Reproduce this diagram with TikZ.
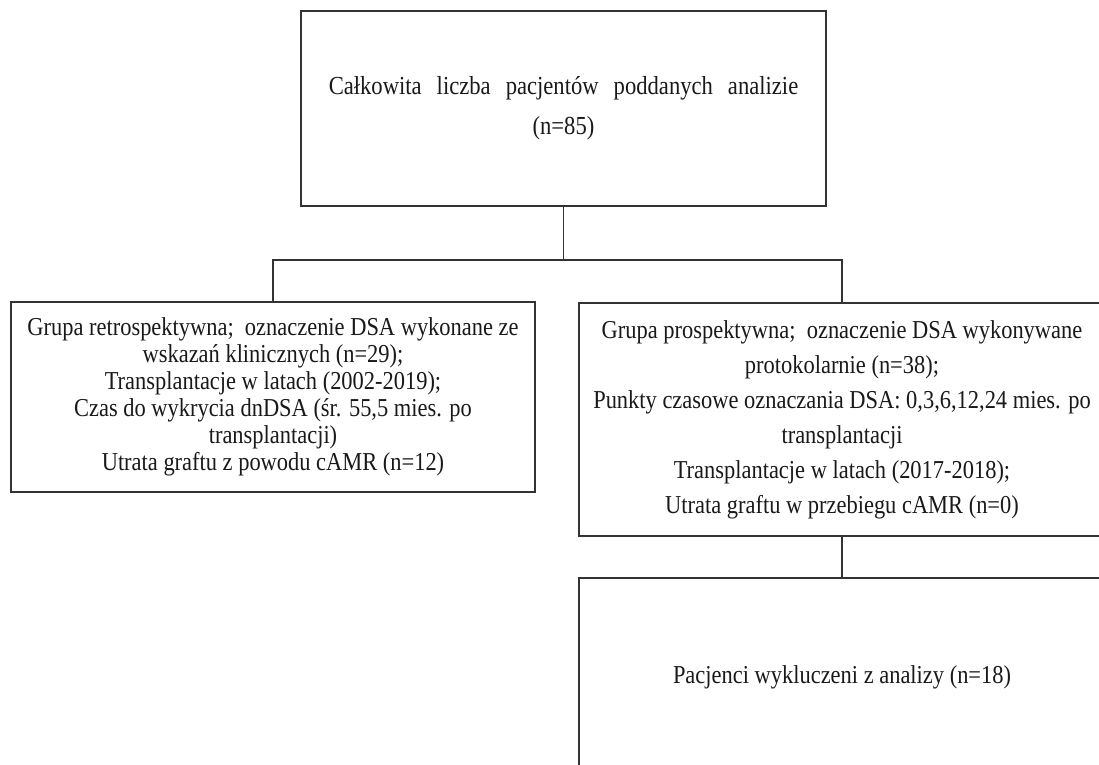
\documentclass[tikz,border=0pt]{standalone}
\usepackage{fontspec}
\setmainfont{Liberation Serif}[FakeStretch=0.87]
\begin{document}
\begin{tikzpicture}[x=1pt,y=-1pt,
  box/.style={draw=black!80, line width=1.6pt, align=center, inner sep=0pt, text=black!90},
  link/.style={draw=black!80, line width=1.6pt}]
\useasboundingbox (0,0) rectangle (1099,764);
\clip (0,0) rectangle (1099,764);
\node[box, minimum width=525pt, minimum height=195pt, font={\fontsize{26}{40}\selectfont\spaceskip=15pt plus 2pt\relax}] (top) at (563.5,108.5)
  {Całkowita liczba pacjentów poddanych analizie\\(n=85)};
\node[box, minimum width=524pt, minimum height=190pt, font=\fontsize{25.8}{27}\selectfont] (left) at (273,397)
  {Grupa retrospektywna;\ \ oznaczenie DSA wykonane ze\\wskazań klinicznych (n=29);\\Transplantacje w latach (2002-2019);\\Czas do wykrycia dnDSA (śr. 55,5 mies. po\\transplantacji)\\Utrata graftu z powodu cAMR (n=12)};
\node[box, minimum width=526pt, minimum height=233pt, font=\fontsize{25.8}{35}\selectfont] (right) at (842,419.5)
  {Grupa prospektywna;\ \ oznaczenie DSA wykonywane\\protokolarnie (n=38);\\Punkty czasowe oznaczania DSA: 0,3,6,12,24 mies. po\\transplantacji\\Transplantacje w latach (2017-2018);\\Utrata graftu w przebiegu cAMR (n=0)};
\node[box, minimum width=526pt, minimum height=198pt, font=\fontsize{25.8}{30}\selectfont] (bottom) at (842,677)
  {Pacjenci wykluczeni z analizy (n=18)};
\coordinate (j) at (563.5,260);
\draw[link] (top.south) -- (j);
\draw[link] (left.north) -- (left.north |- j) -- (right.north |- j) -- (right.north);
\draw[link] (right.south) -- (bottom.north);
\end{tikzpicture}
\end{document}
